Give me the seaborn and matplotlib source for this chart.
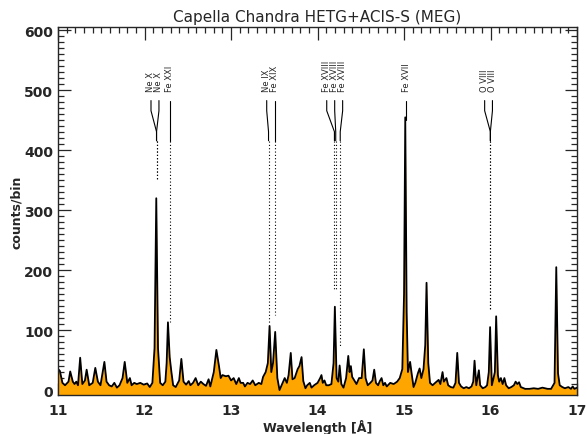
import numpy as np
import pandas as pd
import seaborn as sns
import matplotlib
matplotlib.use('Agg')
import matplotlib.pyplot as plt
from matplotlib.ticker import MultipleLocator

# spectrum (wavelength in Angstrom, counts per bin)
wavelength = [
    11.00, 11.02, 11.05, 11.08, 11.12, 11.14, 11.17, 11.19, 11.21, 11.23,
    11.255, 11.28, 11.31, 11.33, 11.36, 11.40, 11.43, 11.46, 11.49, 11.515,
    11.535, 11.56, 11.59, 11.62, 11.65, 11.68, 11.71, 11.745, 11.77, 11.80,
    11.83, 11.85, 11.88, 11.91, 11.95, 11.99, 12.03, 12.06, 12.09, 12.115,
    12.135, 12.155, 12.18, 12.21, 12.24, 12.255, 12.27, 12.29, 12.31, 12.33,
    12.36, 12.40, 12.425, 12.45, 12.48, 12.51, 12.53, 12.56, 12.59, 12.62,
    12.65, 12.68, 12.71, 12.74, 12.76, 12.80, 12.83, 12.86, 12.88, 12.90,
    12.94, 12.97, 13.00, 13.03, 13.06, 13.09, 13.11, 13.14, 13.16, 13.19,
    13.22, 13.25, 13.28, 13.32, 13.35, 13.37, 13.40, 13.425, 13.445, 13.465,
    13.485, 13.51, 13.535, 13.56, 13.59, 13.62, 13.645, 13.665, 13.69, 13.71,
    13.735, 13.77, 13.79, 13.815, 13.835, 13.86, 13.88, 13.91, 13.93, 13.96,
    14.00, 14.03, 14.045, 14.06, 14.08, 14.10, 14.13, 14.16, 14.185, 14.20,
    14.22, 14.24, 14.255, 14.275, 14.30, 14.33, 14.355, 14.37, 14.385, 14.40,
    14.43, 14.45, 14.48, 14.51, 14.535, 14.555, 14.58, 14.61, 14.635, 14.655,
    14.675, 14.70, 14.72, 14.74, 14.76, 14.78, 14.80, 14.84, 14.88, 14.92,
    14.95, 14.98, 15.00, 15.014, 15.03, 15.045, 15.07, 15.09, 15.11, 15.13,
    15.16, 15.18, 15.20, 15.225, 15.245, 15.26, 15.28, 15.30, 15.33, 15.36,
    15.40, 15.42, 15.445, 15.46, 15.49, 15.51, 15.54, 15.57, 15.595, 15.615,
    15.635, 15.66, 15.69, 15.72, 15.75, 15.78, 15.80, 15.815, 15.835, 15.865,
    15.88, 15.91, 15.94, 15.96, 15.98, 15.995, 16.015, 16.035, 16.05, 16.065,
    16.085, 16.10, 16.12, 16.14, 16.16, 16.18, 16.21, 16.24, 16.27, 16.29,
    16.31, 16.33, 16.35, 16.40, 16.45, 16.50, 16.55, 16.60, 16.63, 16.66,
    16.70, 16.74, 16.76, 16.78, 16.80, 16.83, 16.86, 16.90, 16.93, 16.95,
    16.97, 17.00,
]
counts = [
    35, 32, 12, 8, 14, 31, 14, 10, 14, 8,
    54, 10, 16, 34, 8, 12, 37, 14, 8, 30,
    47, 14, 8, 6, 12, 4, 8, 20, 47, 12,
    20, 8, 12, 10, 12, 9, 11, 5, 12, 70,
    320, 70, 12, 8, 14, 45, 113, 55, 30, 8,
    5, 16, 52, 14, 9, 15, 8, 12, 20, 8,
    14, 10, 7, 18, 6, 30, 67, 40, 20, 25,
    23, 24, 16, 20, 10, 20, 12, 12, 6, 12,
    10, 16, 8, 12, 10, 22, 30, 45, 107, 30,
    45, 97, 20, 0, 10, 20, 12, 25, 62, 18,
    20, 35, 40, 55, 15, 3, 8, 12, 4, 8,
    12, 20, 25, 12, 16, 8, 8, 10, 45, 139,
    20, 14, 41, 10, 4, 20, 57, 30, 40, 22,
    15, 10, 20, 20, 68, 20, 8, 12, 16, 34,
    12, 8, 15, 20, 8, 12, 6, 12, 10, 14,
    20, 35, 160, 455, 130, 30, 47, 25, 5, 12,
    28, 36, 20, 35, 75, 179, 45, 12, 8, 12,
    17, 10, 30, 14, 20, 8, 5, 4, 12, 62,
    12, 6, 3, 5, 3, 6, 14, 49, 8, 33,
    8, 3, 5, 8, 30, 105, 8, 20, 30, 123,
    25, 14, 20, 10, 20, 8, 3, 5, 8, 14,
    10, 13, 5, 2, 2, 3, 2, 4, 3, 2,
    2, 12, 205, 28, 8, 5, 3, 5, 2, 6,
    2, 4,
]

# line identifications
line_names = ['Ne X', 'Ne X', 'Fe XXI', 'Ne IX', 'Fe XIX',
              'Fe XVIII', 'Fe XVIII', 'Fe XVIII', 'Fe XVII', 'O VIII', 'O VIII']

# annotation layout: (label x, line end x, dotted stop in counts or None)
label_layout = [
    (12.074, 12.138, 352), (12.166, 12.138, 352), (12.292, 12.292, 114),
    (13.412, 13.433, 111), (13.505, 13.505, 125),
    (14.106, 14.195, 168), (14.198, 14.210, 168), (14.290, 14.262, 72),
    (15.023, 15.023, None), (15.932, 15.998, 136), (16.022, 15.998, 136),
]

df = pd.DataFrame({'wavelength': wavelength, 'counts': counts})

sns.set_style('ticks')
plt.rcParams['font.family'] = ['DejaVu Sans']

fig = plt.figure(figsize=(5.87, 4.35), dpi=100)
ax = fig.add_axes([0.099, 0.09, 0.884, 0.846])

ax.fill_between(df['wavelength'], df['counts'], -20, color='#FFA500', lw=0)
sns.lineplot(data=df, x='wavelength', y='counts', ax=ax, color='black',
             lw=1.3, estimator=None, sort=False)

ax.set_xlim(11, 17)
ax.set_ylim(-8, 606)

# line markers
for name, (lx, ex, stop) in zip(line_names, label_layout):
    ax.text(lx, 499, name, rotation=90, ha='center', va='bottom', fontsize=6)
    if stop is None:
        ax.plot([lx, ex], [483, 450], color='black', lw=0.8)
        continue
    ax.plot([lx, lx, ex, ex], [483, 466, 431, 416], color='black', lw=0.8)
    ax.plot([ex, ex], [416, stop], color='black', lw=0.8, ls=(0, (1, 2)))

ax.xaxis.set_major_locator(MultipleLocator(1))
ax.xaxis.set_minor_locator(MultipleLocator(0.1))
ax.yaxis.set_major_locator(MultipleLocator(100))
ax.yaxis.set_minor_locator(MultipleLocator(10))
ax.tick_params(which='both', direction='in', top=True, right=True,
               width=0.9, labelsize=10)
ax.tick_params(which='major', length=9)
ax.tick_params(which='minor', length=4.5)
for lab in ax.get_xticklabels() + ax.get_yticklabels():
    lab.set_fontweight('bold')
ax.tick_params(axis='x', pad=6)

for sp in ax.spines.values():
    sp.set_linewidth(1.0)

ax.set_title('Capella Chandra HETG+ACIS-S (MEG)', fontsize=11, pad=4)
ax.set_xlabel('Wavelength [Å]', fontsize=9, fontweight='bold', labelpad=1)
ax.set_ylabel('counts/bin', fontsize=9, fontweight='bold', labelpad=1)

fig.savefig('out.png', dpi=100)
